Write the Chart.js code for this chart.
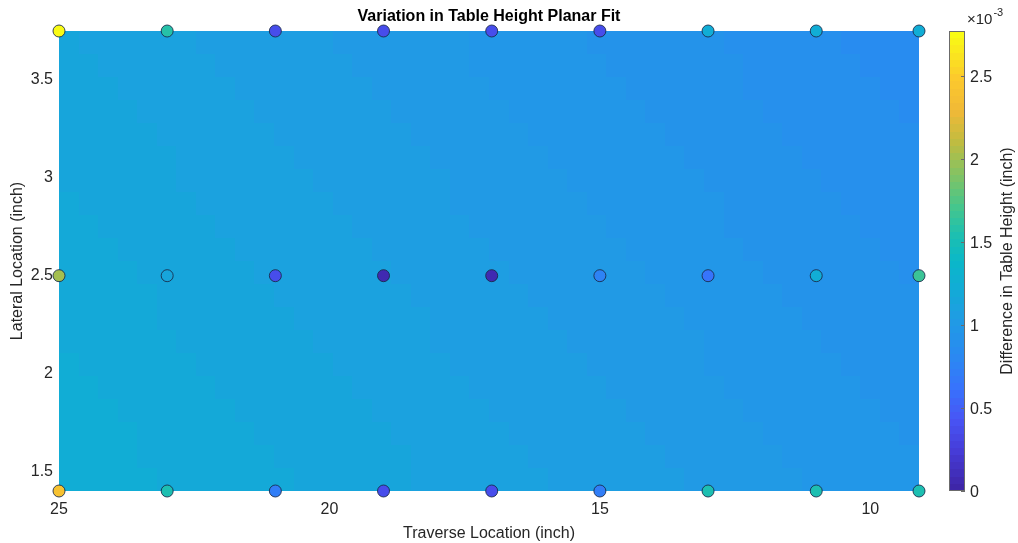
<!DOCTYPE html>
<html>
<head>
<meta charset="utf-8">
<script src="https://cdn.jsdelivr.net/npm/chart.js@4.4.0/dist/chart.umd.min.js"></script>
<style>
  html, body { margin: 0; padding: 0; background: #fff; }
  #wrap { width: 1018px; height: 543px; position: relative; }
</style>
</head>
<body>
<div id="wrap"><canvas id="chart"></canvas></div>
<script>
// measured points, difference in table height in units of 1e-3 inch
const TRAVERSE = [25, 23, 21, 19, 17, 15, 13, 11, 9.1];
const LATERAL = [1.4, 2.5, 3.75];
const DIFF_LOW = [2.42, 1.55, 0.7, 0.35, 0.35, 0.7, 1.55, 1.55, 1.55];
const DIFF_MID = [2.0, 1.15, 0.38, 0.06, 0.06, 0.75, 0.62, 1.25, 1.68];
const DIFF_TOP = [2.77, 1.58, 0.35, 0.35, 0.35, 0.38, 1.25, 1.25, 1.25];

const X_TICKS = [25, 20, 15, 10];
const Y_TICKS = [1.5, 2, 2.5, 3, 3.5];
const CB_TICKS = [0, 0.5, 1, 1.5, 2, 2.5];

const FONT = "'Liberation Sans', Arial, sans-serif";
const TEXT = "#262626";

// parula-like colormap stops
const PARULA = [
  [0.00, 62, 38, 168], [0.08, 70, 60, 215], [0.15, 72, 85, 245],
  [0.22, 55, 115, 252], [0.30, 40, 140, 240], [0.37, 32, 155, 228],
  [0.44, 18, 172, 214], [0.50, 10, 184, 200], [0.56, 30, 192, 175],
  [0.62, 70, 198, 140], [0.69, 130, 195, 100], [0.76, 190, 188, 65],
  [0.83, 240, 185, 55], [0.90, 252, 200, 45], [1.00, 249, 251, 20]
];
const LEVELS = 64;

const rows = [DIFF_LOW, DIFF_MID, DIFF_TOP];
const points = [];
rows.forEach((vals, r) => {
  TRAVERSE.forEach((x, i) => points.push({ x: x, y: LATERAL[r], z: vals[i] }));
});
const cMax = Math.max(...points.map(p => p.z));
const cMin = 0;

function cmap(v) {
  let t = (v - cMin) / (cMax - cMin);
  t = Math.max(0, Math.min(1, t));
  const k = Math.min(LEVELS - 1, Math.floor(t * LEVELS));
  t = k / (LEVELS - 1);
  for (let i = 1; i < PARULA.length; i++) {
    if (t <= PARULA[i][0]) {
      const a = PARULA[i - 1], b = PARULA[i];
      const f = (t - a[0]) / (b[0] - a[0]);
      const c = [1, 2, 3].map(j => Math.round(a[j] + (b[j] - a[j]) * f));
      return `rgb(${c[0]},${c[1]},${c[2]})`;
    }
  }
  return "rgb(249,251,20)";
}

// least squares plane z = a + b*x + c*y through the measured points
function fitPlane(pts) {
  const M = [[0, 0, 0], [0, 0, 0], [0, 0, 0]], v = [0, 0, 0];
  pts.forEach(p => {
    const r = [1, p.x, p.y];
    for (let i = 0; i < 3; i++) {
      v[i] += r[i] * p.z;
      for (let j = 0; j < 3; j++) M[i][j] += r[i] * r[j];
    }
  });
  for (let i = 0; i < 3; i++) {
    for (let k = i + 1; k < 3; k++) {
      const f = M[k][i] / M[i][i];
      for (let j = i; j < 3; j++) M[k][j] -= f * M[i][j];
      v[k] -= f * v[i];
    }
  }
  const s = [0, 0, 0];
  for (let i = 2; i >= 0; i--) {
    let acc = v[i];
    for (let j = i + 1; j < 3; j++) acc -= M[i][j] * s[j];
    s[i] = acc / M[i][i];
  }
  return s;
}
const plane = fitPlane(points);

const surfacePlugin = {
  id: "surface",
  beforeDatasetsDraw(chart) {
    const { ctx, scales: { x, y } } = chart;
    const x0 = Math.min(...TRAVERSE), x1 = Math.max(...TRAVERSE);
    const y0 = Math.min(...LATERAL), y1 = Math.max(...LATERAL);
    const NX = 44, NY = 20;
    ctx.save();
    for (let i = 0; i < NX; i++) {
      for (let j = 0; j < NY; j++) {
        const xa = x0 + (x1 - x0) * i / NX, xb = x0 + (x1 - x0) * (i + 1) / NX;
        const ya = y0 + (y1 - y0) * j / NY, yb = y0 + (y1 - y0) * (j + 1) / NY;
        const z = plane[0] + plane[1] * (xa + xb) / 2 + plane[2] * (ya + yb) / 2;
        const pa = Math.round(x.getPixelForValue(xa)), pb = Math.round(x.getPixelForValue(xb));
        const qa = Math.round(y.getPixelForValue(ya)), qb = Math.round(y.getPixelForValue(yb));
        ctx.fillStyle = cmap(z);
        ctx.fillRect(Math.min(pa, pb), Math.min(qa, qb), Math.abs(pb - pa), Math.abs(qb - qa));
      }
    }
    ctx.restore();
  },
  afterDraw(chart) {
    const { ctx, chartArea, scales: { cb } } = chart;
    ctx.save();
    // title
    ctx.fillStyle = "#000";
    ctx.font = `bold 16px ${FONT}`;
    ctx.textAlign = "center";
    ctx.textBaseline = "middle";
    ctx.fillText("Variation in Table Height Planar Fit", (chartArea.left + chartArea.right) / 2, 17);

    // colorbar
    const bl = 949, bw = 16;
    const top = Math.round(cb.getPixelForValue(cMax)), bot = Math.round(cb.getPixelForValue(cMin));
    for (let k = 0; k < LEVELS; k++) {
      const va = cMin + (cMax - cMin) * k / LEVELS, vb = cMin + (cMax - cMin) * (k + 1) / LEVELS;
      const pa = Math.round(cb.getPixelForValue(va)), pb = Math.round(cb.getPixelForValue(vb));
      ctx.fillStyle = cmap((va + vb) / 2);
      ctx.fillRect(bl, pb, bw, pa - pb);
    }
    ctx.strokeStyle = "#6b6b6b";
    ctx.lineWidth = 1;
    ctx.strokeRect(bl + 0.5, top + 0.5, bw - 1, bot - top - 1);
    ctx.fillStyle = TEXT;
    ctx.font = `16px ${FONT}`;
    ctx.textAlign = "left";
    ctx.textBaseline = "middle";
    CB_TICKS.forEach(t => {
      const p = Math.round(cb.getPixelForValue(t)) + 0.5;
      ctx.beginPath();
      ctx.moveTo(bl + bw - 4, p);
      ctx.lineTo(bl + bw, p);
      ctx.stroke();
      ctx.fillText(String(t), 970, p + 1);
    });
    // exponent label
    ctx.textBaseline = "alphabetic";
    ctx.font = `15px ${FONT}`;
    const base = "\u00d710";
    ctx.fillText(base, 967, 24);
    const w = ctx.measureText(base).width;
    ctx.font = `11px ${FONT}`;
    ctx.fillText("-3", 967 + w + 1, 16);
    // colorbar label
    ctx.font = `16px ${FONT}`;
    ctx.translate(1008, (top + bot) / 2);
    ctx.rotate(-Math.PI / 2);
    ctx.textAlign = "center";
    ctx.textBaseline = "middle";
    ctx.fillText("Difference in Table Height (inch)", 0, 0);
    ctx.restore();
  }
};

new Chart(document.getElementById("chart"), {
  type: "scatter",
  data: {
    datasets: [{
      data: points,
      pointRadius: 6,
      pointHoverRadius: 6,
      pointBorderWidth: 1,
      pointBorderColor: "rgba(25,40,70,0.85)",
      pointBackgroundColor: c => cmap(c.raw.z),
      clip: false
    }]
  },
  options: {
    responsive: true,
    maintainAspectRatio: false,
    animation: false,
    events: [],
    layout: { autoPadding: false, padding: { top: 31, left: 0, right: 0, bottom: 0 } },
    plugins: { legend: { display: false }, tooltip: { enabled: false } },
    scales: {
      x: {
        type: "linear",
        reverse: true,
        min: Math.min(...TRAVERSE),
        max: Math.max(...TRAVERSE),
        afterBuildTicks: s => { s.ticks = X_TICKS.map(v => ({ value: v })); },
        afterFit: s => { s.height = 52; },
        grid: { display: false, drawTicks: false },
        border: { display: false },
        ticks: { padding: 9, color: TEXT, font: { family: FONT, size: 16 }, callback: v => String(v) },
        title: { display: true, text: "Traverse Location (inch)", color: TEXT, padding: { top: 0, bottom: 0 }, font: { family: FONT, size: 16 } }
      },
      y: {
        type: "linear",
        min: Math.min(...LATERAL),
        max: Math.max(...LATERAL),
        afterBuildTicks: s => { s.ticks = Y_TICKS.map(v => ({ value: v })); },
        afterFit: s => { s.width = 59; },
        grid: { display: false, drawTicks: false },
        border: { display: false },
        ticks: { padding: 6, color: TEXT, font: { family: FONT, size: 16 }, callback: v => String(v) },
        title: { display: true, text: "Lateral Location (inch)", color: TEXT, padding: { top: 8, bottom: 0 }, font: { family: FONT, size: 16 } }
      },
      cb: {
        type: "linear",
        position: "right",
        min: cMin,
        max: cMax,
        afterFit: s => { s.width = 99; },
        grid: { display: false, drawTicks: false },
        border: { display: false },
        ticks: { display: false, padding: 0 }
      }
    }
  },
  plugins: [surfacePlugin]
});
</script>
</body>
</html>
